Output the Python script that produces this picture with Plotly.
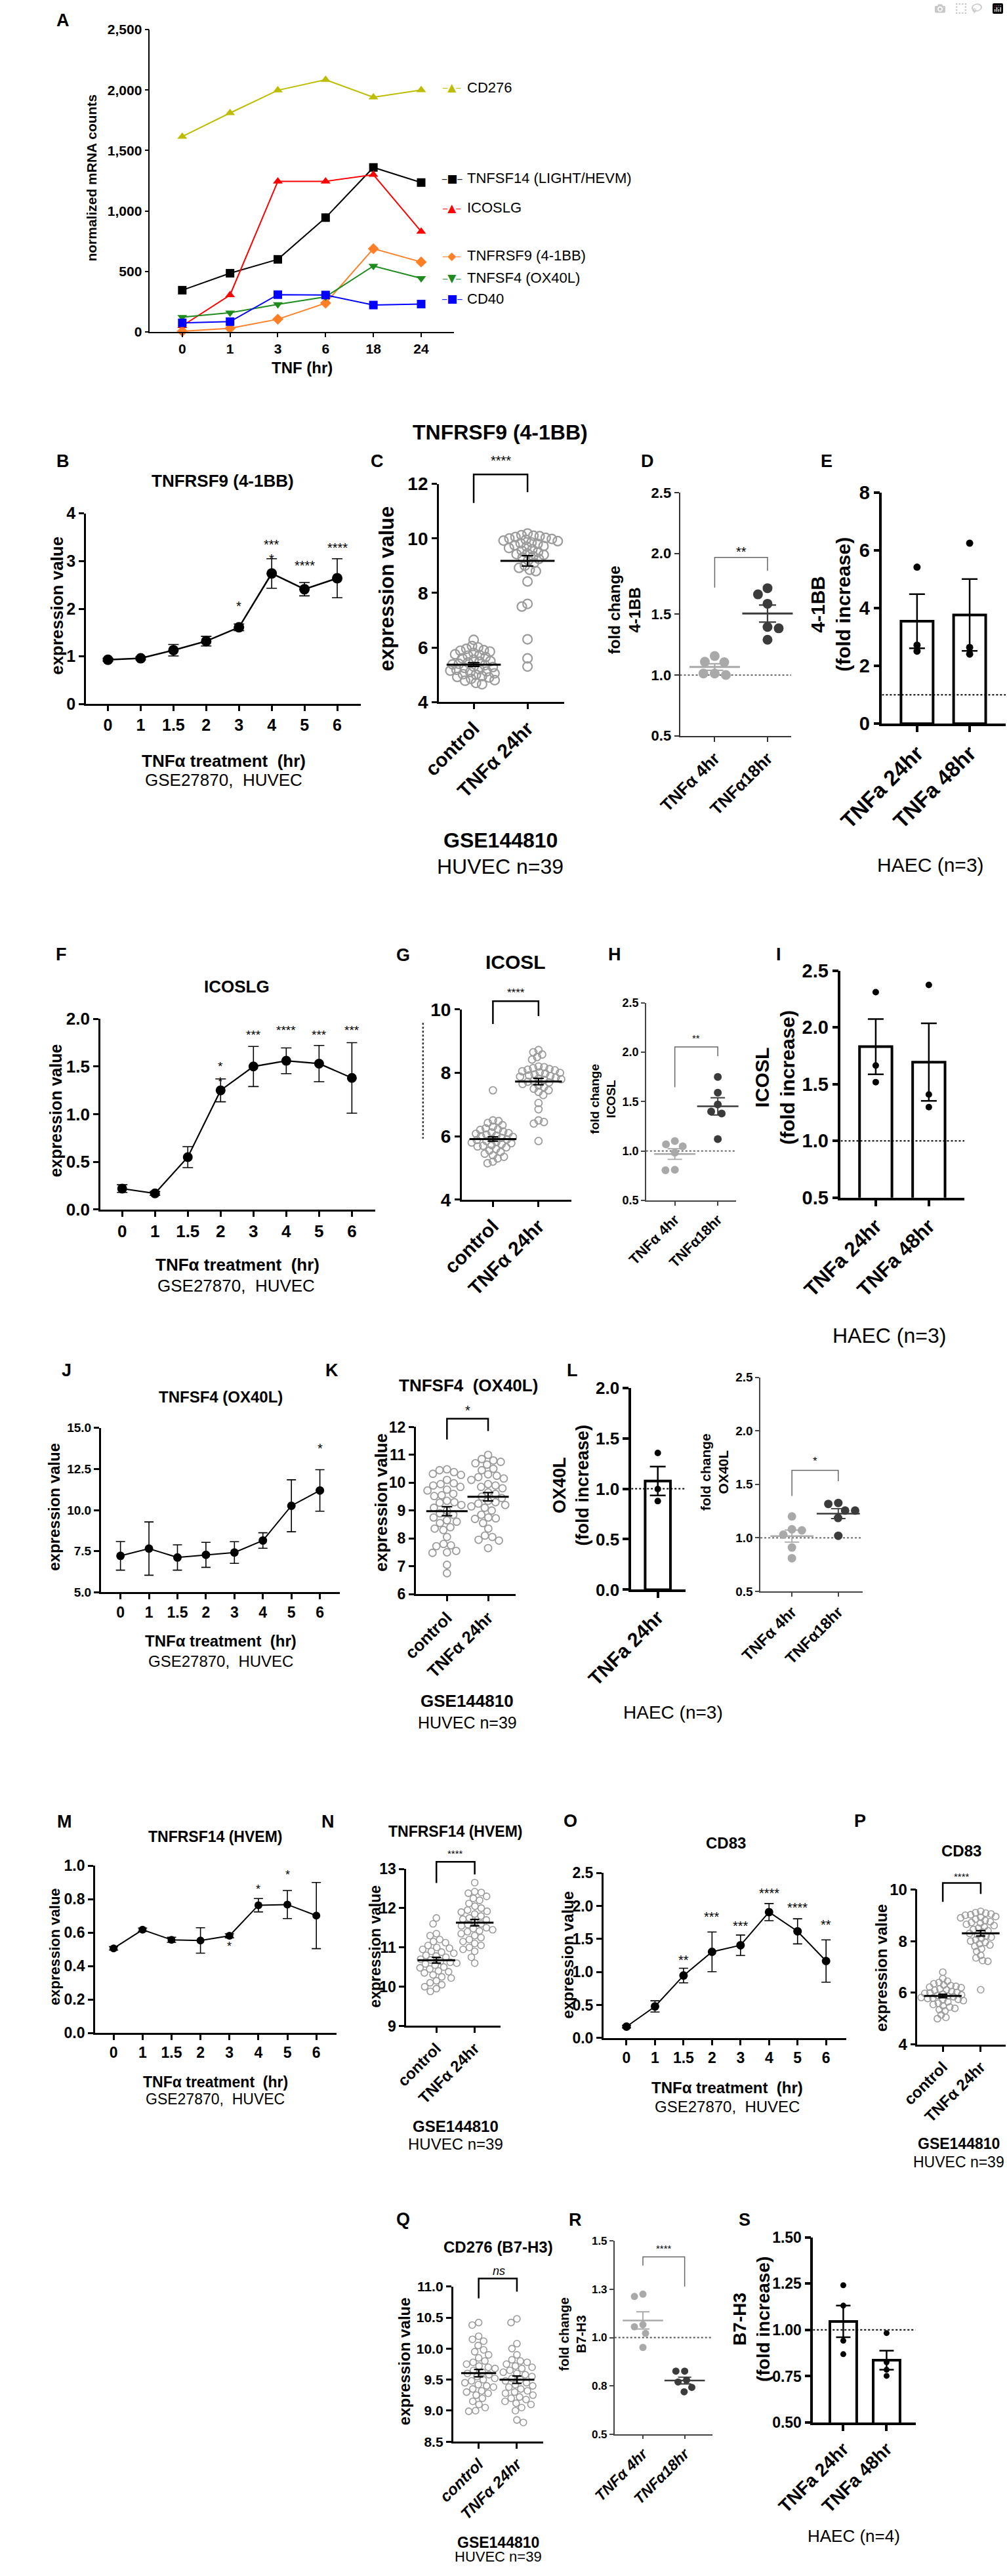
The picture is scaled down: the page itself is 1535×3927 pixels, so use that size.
import statistics as st
import plotly.graph_objects as go

W, H = 1535, 3927
FONT = "Liberation Sans, Arial, Helvetica, sans-serif"
GLYPH = "DejaVu Sans"
LIGHT, DARK, OPEN = "#a9a9a9", "#3b3b3b", "#9b9b9b"

# ---------------- A: normalized mRNA counts after TNF ----------------
a_hours = ["0", "1", "3", "6", "18", "24"]
a_cd276 = [1615, 1810, 1998, 2085, 1940, 2000]
a_tnfsf14 = [345, 485, 600, 945, 1360, 1235]
a_icoslg = [50, 305, 1245, 1245, 1300, 830]
a_tnfrsf9 = [5, 30, 105, 238, 688, 578]
a_tnfsf4 = [122, 158, 228, 290, 545, 443]
a_cd40 = [75, 85, 308, 305, 222, 230]

# ---------------- GSE27870 time courses (mean, sem) ----------------
tc_hours = ["0", "1", "1.5", "2", "3", "4", "5", "6"]
b_mean = [0.93, 0.96, 1.13, 1.32, 1.61, 2.74, 2.41, 2.64]
b_sem = [0.03, 0.03, 0.12, 0.10, 0.07, 0.31, 0.14, 0.41]
f_mean = [0.22, 0.17, 0.55, 1.25, 1.50, 1.56, 1.53, 1.38]
f_sem = [0.04, 0.02, 0.11, 0.12, 0.21, 0.135, 0.19, 0.37]
j_mean = [7.22, 7.66, 7.12, 7.28, 7.42, 8.15, 10.26, 11.19]
j_sem = [0.87, 1.62, 0.77, 0.76, 0.66, 0.47, 1.58, 1.26]
m_mean = [0.506, 0.617, 0.557, 0.553, 0.581, 0.764, 0.768, 0.702]
m_sem = [0.01, 0.01, 0.015, 0.076, 0.012, 0.04, 0.084, 0.198]
o_mean = [0.172, 0.478, 0.946, 1.305, 1.405, 1.907, 1.616, 1.166]
o_sem = [0.02, 0.085, 0.11, 0.30, 0.155, 0.13, 0.19, 0.32]

# ---------------- GSE144810 (HUVEC n=39): control vs TNFa 24hr ----------------
dot_groups = ["control", "TNFα 24hr"]
c_ctrl = [6.28, 6.05, 6.0, 5.95, 5.9, 5.88, 5.85, 5.8, 5.75, 5.72, 5.7, 5.65, 5.6,
          5.55, 5.5, 5.48, 5.45, 5.4, 5.38, 5.35, 5.3, 5.28, 5.25, 5.2, 5.18, 5.15,
          5.12, 5.1, 5.05, 5.02, 5.0, 4.95, 4.92, 4.9, 4.85, 4.8, 4.78, 4.7, 4.65]
c_tnf = [10.18, 10.12, 10.1, 10.08, 10.05, 10.02, 10.0, 9.98, 9.95, 9.92, 9.9, 9.85,
         9.82, 9.8, 9.75, 9.72, 9.7, 9.65, 9.6, 9.55, 9.5, 9.45, 9.42, 9.4, 9.35, 9.3,
         9.25, 9.2, 9.1, 9.0, 8.92, 8.85, 8.8, 8.42, 7.6, 7.5, 6.3, 5.6, 5.3]
g_ctrl = [7.45, 6.5, 6.48, 6.42, 6.35, 6.3, 6.25, 6.22, 6.2, 6.15, 6.12, 6.1, 6.08,
          6.05, 6.02, 6.0, 5.98, 5.95, 5.92, 5.9, 5.88, 5.85, 5.82, 5.8, 5.78, 5.75,
          5.72, 5.7, 5.68, 5.65, 5.6, 5.55, 5.5, 5.45, 5.4, 5.35, 5.3, 5.2, 5.15]
g_tnf = [8.72, 8.65, 8.58, 8.5, 8.42, 8.2, 8.18, 8.15, 8.12, 8.1, 8.08, 8.05, 8.02,
         8.0, 7.98, 7.95, 7.92, 7.9, 7.88, 7.85, 7.82, 7.8, 7.78, 7.75, 7.72, 7.7,
         7.65, 7.6, 7.55, 7.5, 7.45, 7.4, 7.3, 7.05, 6.85, 6.5, 6.45, 6.4, 5.85]
k_ctrl = [10.48, 10.45, 10.38, 10.32, 10.28, 10.1, 9.98, 9.95, 9.9, 9.85, 9.72, 9.6,
          9.55, 9.52, 9.35, 9.3, 9.28, 9.2, 9.1, 9.0, 8.9, 8.85, 8.75, 8.65, 8.6, 8.55,
          8.4, 8.35, 8.3, 8.05, 7.8, 7.75, 7.72, 7.55, 7.5, 7.48, 7.05, 6.75, 9.75]
k_tnf = [11.0, 10.85, 10.8, 10.75, 10.7, 10.65, 10.5, 10.45, 10.3, 10.25, 10.2, 10.15,
         10.1, 9.95, 9.9, 9.85, 9.8, 9.65, 9.6, 9.5, 9.45, 9.35, 9.3, 9.2, 9.15, 9.1,
         9.0, 8.85, 8.75, 8.72, 8.7, 8.55, 8.35, 8.1, 8.05, 7.95, 7.92, 7.65, 9.25]
n_ctrl = [11.75, 11.6, 11.35, 11.3, 11.2, 11.15, 11.12, 11.05, 11.0, 10.98, 10.95,
          10.9, 10.88, 10.85, 10.8, 10.78, 10.75, 10.7, 10.68, 10.65, 10.62, 10.6,
          10.58, 10.55, 10.5, 10.48, 10.45, 10.4, 10.38, 10.35, 10.3, 10.25, 10.22,
          10.15, 10.1, 10.05, 10.0, 9.95, 9.88]
n_tnf = [12.65, 12.42, 12.4, 12.38, 12.3, 12.25, 12.2, 12.12, 12.05, 12.0, 11.95,
         11.92, 11.9, 11.85, 11.8, 11.75, 11.72, 11.7, 11.65, 11.6, 11.58, 11.55, 11.5,
         11.48, 11.45, 11.42, 11.4, 11.35, 11.3, 11.25, 11.2, 11.15, 11.1, 11.05, 11.0,
         10.95, 10.9, 10.75, 10.6]
p_ctrl = [6.8, 6.55, 6.45, 6.4, 6.35, 6.3, 6.28, 6.25, 6.22, 6.2, 6.15, 6.12, 6.1,
          6.05, 6.02, 6.0, 5.98, 5.95, 5.92, 5.9, 5.88, 5.85, 5.82, 5.8, 5.78, 5.75,
          5.72, 5.7, 5.65, 5.6, 5.55, 5.5, 5.45, 5.4, 5.35, 5.3, 5.15, 5.05, 5.0]
p_tnf = [9.15, 9.1, 9.08, 9.05, 9.02, 9.0, 8.95, 8.92, 8.9, 8.85, 8.8, 8.75, 8.72, 8.7,
         8.65, 8.6, 8.55, 8.5, 8.45, 8.4, 8.35, 8.3, 8.25, 8.2, 8.15, 8.1, 8.05, 8.0,
         7.95, 7.9, 7.85, 7.8, 7.7, 7.6, 7.45, 7.35, 7.25, 7.22, 6.12]
q_ctrl = [10.42, 10.38, 10.2, 10.15, 10.12, 10.05, 9.98, 9.95, 9.9, 9.85, 9.8, 9.78,
          9.75, 9.72, 9.7, 9.68, 9.65, 9.62, 9.6, 9.58, 9.55, 9.52, 9.5, 9.48, 9.45,
          9.42, 9.4, 9.38, 9.35, 9.32, 9.3, 9.28, 9.25, 9.2, 9.15, 9.1, 9.05, 9.0, 8.99]
q_tnf = [10.48, 10.42, 10.08, 10.0, 9.9, 9.82, 9.8, 9.78, 9.75, 9.72, 9.7, 9.68, 9.65,
         9.62, 9.6, 9.58, 9.55, 9.52, 9.5, 9.48, 9.45, 9.42, 9.4, 9.38, 9.35, 9.32, 9.3,
         9.28, 9.25, 9.22, 9.2, 9.18, 9.15, 9.12, 9.1, 9.05, 9.0, 8.85, 8.81]

# ---------------- fold change, TNFa 4hr vs 18hr ----------------
fc_groups = ["TNFα 4hr", "TNFα18hr"]
d_4hr = [1.156, 1.105, 1.109, 1.0, 1.012, 1.012]
d_18hr = [1.663, 1.714, 1.586, 1.395, 1.384, 1.29]
h_4hr = [1.10, 1.047, 1.067, 0.983, 0.805, 0.81]
h_18hr = [1.75, 1.59, 1.47, 1.40, 1.38, 1.12]
l2_4hr = [1.20, 1.08, 1.07, 1.03, 0.91, 0.81]
l2_18hr = [1.255, 1.317, 1.326, 1.186, 1.255, 1.02]
r_4hr = [1.225, 1.213, 1.067, 1.056, 1.022, 0.949]
r_18hr = [0.826, 0.826, 0.78, 0.77, 0.742, 0.719]

# ---------------- HAEC fold increase ----------------
haec_groups = ["TNFa 24hr", "TNFa 48hr"]
e_24 = [5.42, 2.72, 2.51]
e_48 = [6.25, 2.64, 2.41]
i_24 = [2.31, 1.664, 1.518]
i_48 = [2.374, 1.409, 1.298]
l_24 = [1.355, 0.997, 0.878]
s_24 = [1.241, 1.131, 0.942, 0.869]
s_48 = [0.983, 0.826, 0.785, 0.752]

fig = go.Figure()
panels = {}


def add_panel(name, box, xr, yr, yvals, ytext, xvals, xtext, lw=3, col="black",
              yfs=24, xfs=24, xangle=0, xstyle="normal", ticklen=8):
    i = len(panels) + 1
    sfx = "" if i == 1 else str(i)
    x0, x1, yt, yb = box
    base = dict(showline=True, linecolor=col, linewidth=lw, ticks="outside",
                ticklen=ticklen, tickwidth=lw, tickcolor=col, showgrid=False,
                zeroline=False, tickmode="array", fixedrange=True)
    fig.update_layout(**{
        "xaxis" + sfx: dict(base, domain=[x0 / W, x1 / W], range=xr, anchor="y" + sfx,
                            tickvals=xvals, ticktext=xtext, tickangle=xangle,
                            tickfont=dict(family=FONT, size=xfs, color="black",
                                          weight="bold", style=xstyle)),
        "yaxis" + sfx: dict(base, domain=[1 - yb / H, 1 - yt / H], range=yr,
                            anchor="x" + sfx, tickvals=yvals, ticktext=ytext,
                            tickangle=0,
                            tickfont=dict(family=FONT, size=yfs, color="black",
                                          weight="bold")),
    })
    panels[name] = dict(ref=("x" + sfx, "y" + sfx), box=box, xr=xr, yr=yr)


def to_px(name, x, y):
    p = panels[name]
    x0, x1, yt, yb = p["box"]
    (xa, xb), (ya, yc) = p["xr"], p["yr"]
    return x0 + (x - xa) / (xb - xa) * (x1 - x0), yb - (y - ya) / (yc - ya) * (yb - yt)


def label(x, y, text, size, bold=True, angle=0, xanchor="center", italic=False,
          color="black", family=FONT, yshift=0):
    if bold:
        text = "<b>" + text + "</b>"
    if italic:
        text = "<i>" + text + "</i>"
    fig.add_annotation(x=x / W, y=1 - y / H, xref="paper", yref="paper", text=text,
                       showarrow=False, textangle=angle, xanchor=xanchor,
                       yanchor="middle", yshift=yshift,
                       font=dict(family=family, size=size, color=color))


def stars(name, marks, size):
    for xi, txt, yv in marks:
        px, py = to_px(name, xi, yv)
        label(px, py, txt, size, bold=False, yshift=-0.28 * size)


def bracket(name, yl, ytop, yr, color="black", width=2.5, txt=None, ytxt=None, size=18):
    xa, ya = to_px(name, 0, yl)
    xb, yb = to_px(name, 1, yr)
    _, yt = to_px(name, 0, ytop)
    path = "M {:.5f},{:.5f} L {:.5f},{:.5f} L {:.5f},{:.5f} L {:.5f},{:.5f}".format(
        xa / W, 1 - ya / H, xa / W, 1 - yt / H, xb / W, 1 - yt / H, xb / W, 1 - yb / H)
    fig.add_shape(type="path", path=path, xref="paper", yref="paper",
                  line=dict(color=color, width=width))
    if txt:
        stars(name, [(0.5, txt, ytxt)], size)


def swarm(name, vals, sep):
    # classic beeswarm in pixel space, returns x offsets in axis units
    p = panels[name]
    x0, x1, yt, yb = p["box"]
    kx = (x1 - x0) / (p["xr"][1] - p["xr"][0])
    ky = (yb - yt) / (p["yr"][1] - p["yr"][0])
    placed, offs = [], [0.0] * len(vals)
    for k in sorted(range(len(vals)), key=lambda n: -vals[n]):
        y = vals[k] * ky
        cands = [0.0]
        for a, b in placed:
            dy = abs(y - b)
            if dy < sep:
                dx = (sep * sep - dy * dy) ** 0.5
                cands += [a + dx, a - dx]
        sgn = 1 if len(placed) % 2 else -1
        cands.sort(key=lambda c: (round(abs(c), 6), sgn * c))
        pick = cands[-1]
        for c in cands:
            if all((c - a) ** 2 + (y - b) ** 2 >= sep * sep * 0.999 for a, b in placed):
                pick = c
                break
        placed.append((pick, y))
        offs[k] = pick / kx
    return offs


def sem(vals):
    return st.stdev(vals) / len(vals) ** 0.5


def mean_sem(name, i, vals, color, length, cap, width):
    xa, ya = panels[name]["ref"]
    fig.add_trace(go.Scatter(
        x=[i], y=[st.mean(vals)], xaxis=xa, yaxis=ya, mode="markers", cliponaxis=False,
        marker=dict(symbol="line-ew", size=length, color=color, line=dict(width=width, color=color)),
        error_y=dict(type="data", array=[sem(vals)], color=color, thickness=width * 0.75, width=cap)))


def time_course(name, means, sems, msize, lw, cap):
    xa, ya = panels[name]["ref"]
    fig.add_trace(go.Scatter(
        x=list(range(len(means))), y=means, xaxis=xa, yaxis=ya, mode="lines+markers",
        cliponaxis=False, line=dict(color="black", width=lw),
        marker=dict(size=msize, color="black"),
        error_y=dict(type="data", array=sems, color="black", thickness=1.6, width=cap)))


def swarm_panel(name, groups, size, lw, sep, length, cap):
    xa, ya = panels[name]["ref"]
    for i, vals in enumerate(groups):
        offs = swarm(name, vals, sep)
        fig.add_trace(go.Scatter(
            x=[i + o for o in offs], y=vals, xaxis=xa, yaxis=ya, mode="markers",
            cliponaxis=False,
            marker=dict(symbol="circle-open", size=size, color=OPEN,
                        line=dict(width=lw, color=OPEN))))
        mean_sem(name, i, vals, "black", length, cap, 3)


def pair_panel(name, groups, size, length, cap, lw):
    xa, ya = panels[name]["ref"]
    for i, (vals, col) in enumerate(zip(groups, [LIGHT, DARK])):
        offs = swarm(name, vals, size + 3)
        fig.add_trace(go.Scatter(
            x=[i + o for o in offs], y=vals, xaxis=xa, yaxis=ya, mode="markers",
            cliponaxis=False, marker=dict(size=size, color=col)))
        mean_sem(name, i, vals, col, length, cap, lw)


def bar_panel(name, groups, width, lw, dot, cap):
    xa, ya = panels[name]["ref"]
    fig.add_trace(go.Bar(
        x=list(range(len(groups))), y=[st.mean(g) for g in groups], width=width,
        xaxis=xa, yaxis=ya,
        marker=dict(color="white", line=dict(color="black", width=lw)),
        error_y=dict(type="data", array=[sem(g) for g in groups], color="black",
                     thickness=2.5, width=cap)))
    for i, g in enumerate(groups):
        fig.add_trace(go.Scatter(x=[i] * len(g), y=g, xaxis=xa, yaxis=ya, mode="markers",
                                 cliponaxis=False, marker=dict(size=dot, color="black")))


def ref_line(name, y=1.0, color="black", width=2):
    xa, ya = panels[name]["ref"]
    xr = panels[name]["xr"]
    fig.add_trace(go.Scatter(x=[xr[0], xr[1]], y=[y, y], xaxis=xa, yaxis=ya, mode="lines",
                             line=dict(color=color, width=width, dash="dot")))


tc_idx = list(range(len(tc_hours)))
fold05 = [0.5, 1.0, 1.5, 2.0, 2.5]
fold05_t = ["0.5", "1.0", "1.5", "2.0", "2.5"]

# ---------------- axes ----------------
add_panel("A", (164, 650, 29.3, 494), [-0.68, 5.68], [0, 2500],
          [0, 500, 1000, 1500, 2000, 2500], ["0", "500", "1,000", "1,500", "2,000", "2,500"],
          list(range(6)), a_hours, lw=1.5, yfs=21, xfs=21, ticklen=6)
add_panel("B", (62, 501.5, 773, 1066), [-0.67, 7.72], [0, 4],
          [0, 1, 2, 3, 4], ["0", "1", "2", "3", "4"], tc_idx, tc_hours, yfs=25, xfs=25)
add_panel("C", (626.5, 826.7, 727.6, 1062.8), [-0.645, 1.68], [4, 12],
          [4, 6, 8, 10, 12], ["4", "6", "8", "10", "12"], [0, 1], dot_groups,
          yfs=28, xfs=30, xangle=-45)
add_panel("D", (1012, 1190, 741, 1114.8), [-0.657, 1.45], [0.5, 2.5], fold05, fold05_t,
          [0, 1], fc_groups, lw=2, col="#333333", yfs=22, xfs=26, xangle=-45, ticklen=7)
add_panel("E", (1335, 1533, 741, 1096.2), [-0.667, 1.686], [0, 8],
          [0, 2, 4, 6, 8], ["0", "2", "4", "6", "8"], [0, 1], haec_groups,
          lw=3.5, yfs=29, xfs=33, xangle=-45, ticklen=9)
add_panel("F", (85.2, 524.5, 1549.7, 1843), [-0.66, 7.71], [0, 2],
          [0, 0.5, 1, 1.5, 2], ["0.0", "0.5", "1.0", "1.5", "2.0"], tc_idx, tc_hours,
          yfs=26, xfs=26)
add_panel("G", (663, 838, 1535.4, 1827.7), [-0.683, 1.717], [4, 10],
          [4, 6, 8, 10], ["4", "6", "8", "10"], [0, 1], dot_groups,
          yfs=28, xfs=30, xangle=-45)
add_panel("H", (957.7, 1102, 1525.2, 1828.8), [-0.67, 1.43], [0.5, 2.5], fold05, fold05_t,
          [0, 1], fc_groups, lw=1.5, col="#444444", yfs=18, xfs=22, xangle=-45, ticklen=6)
add_panel("I", (1269, 1466.9, 1475.7, 1824.7), [-0.66, 1.67], [0.5, 2.5], fold05, fold05_t,
          [0, 1], haec_groups, lw=3.5, yfs=29, xfs=31, xangle=-45, ticklen=9)
add_panel("J", (85.7, 468.4, 2178.3, 2431.3), [-0.69, 7.71], [5, 15],
          [5, 7.5, 10, 12.5, 15], ["5.0", "7.5", "10.0", "12.5", "15.0"], tc_idx, tc_hours,
          lw=2.5, yfs=19, xfs=23)
add_panel("K", (589.3, 749, 2177.2, 2433.9), [-0.76, 1.667], [6, 12],
          [6, 7, 8, 9, 10, 11, 12], ["6", "7", "8", "9", "10", "11", "12"], [0, 1], dot_groups,
          lw=2.5, yfs=23, xfs=26, xangle=-45)
add_panel("L", (934, 1020.5, 2117, 2427.2), [-0.5, 0.518], [0, 2],
          [0, 0.5, 1, 1.5, 2], ["0.0", "0.5", "1.0", "1.5", "2.0"], [0], haec_groups[:1],
          lw=3.5, yfs=26, xfs=30, xangle=-45, ticklen=9)
add_panel("L2", (1140.6, 1303.7, 2100.7, 2429.8), [-0.68, 1.52], [0.5, 2.5], fold05, fold05_t,
          [0, 1], fc_groups, lw=1.5, col="#444444", yfs=19, xfs=24, xangle=-45, ticklen=6)
add_panel("M", (76.5, 462.8, 2851.5, 3108.4), [-0.64, 7.70], [0, 1],
          [0, 0.2, 0.4, 0.6, 0.8, 1.0], ["0.0", "0.2", "0.4", "0.6", "0.8", "1.0"],
          tc_idx, tc_hours, lw=2.5, yfs=23, xfs=23)
add_panel("N", (574, 724.5, 2856.3, 3097.7), [-0.79, 1.666], [9, 13],
          [9, 10, 11, 12, 13], ["9", "10", "11", "12", "13"], [0, 1], dot_groups,
          lw=2.5, yfs=23, xfs=24, xangle=-45)
add_panel("O", (889.5, 1278, 2862.6, 3116.2), [-0.81, 7.71], [0, 2.5],
          [0, 0.5, 1, 1.5, 2, 2.5], ["0.0", "0.5", "1.0", "1.5", "2.0", "2.5"],
          tc_idx, tc_hours, lw=2.5, yfs=23, xfs=23)
add_panel("P", (1391.7, 1533, 2887.8, 3126.3), [-0.67, 1.66], [4, 10],
          [4, 6, 8, 10], ["4", "6", "8", "10"], [0, 1], dot_groups,
          lw=2.5, yfs=24, xfs=24, xangle=-45)
add_panel("Q", (649, 793.4, 3498.3, 3736.7), [-0.67, 1.69], [8.5, 11],
          [8.5, 9, 9.5, 10, 10.5, 11], ["8.5", "9.0", "9.5", "10.0", "10.5", "11.0"],
          [0, 1], dot_groups, lw=2.5, yfs=21, xfs=24, xangle=-45, xstyle="italic")
add_panel("R", (907.3, 1064, 3428.3, 3725), [-0.68, 1.667], [0.5, 1.5],
          [0.5, 0.75, 1.0, 1.25, 1.5], ["0.5", "0.8", "1.0", "1.3", "1.5"], [0, 1], fc_groups,
          lw=1.5, col="#444444", yfs=17, xfs=23, xangle=-45, xstyle="italic", ticklen=6)
add_panel("S", (1224.7, 1388.8, 3422.5, 3707.3), [-0.70, 1.67], [0.5, 1.5],
          [0.5, 0.75, 1.0, 1.25, 1.5], ["0.50", "0.75", "1.00", "1.25", "1.50"], [0, 1],
          haec_groups, lw=3.5, yfs=23, xfs=28, xangle=-45, ticklen=9)

# ---------------- A ----------------
a_series = [("CD276", a_cd276, "#bdbd00", "triangle-up", "▲"),
            ("TNFSF14 (LIGHT/HEVM)", a_tnfsf14, "black", "square", "■"),
            ("ICOSLG", a_icoslg, "#ff0000", "triangle-up", "▲"),
            ("TNFRSF9 (4-1BB)", a_tnfrsf9, "#ff7f27", "diamond", "◆"),
            ("TNFSF4 (OX40L)", a_tnfsf4, "#1e8b1e", "triangle-down", "▼"),
            ("CD40", a_cd40, "#0000ff", "square", "■")]
legend_y = [118, 258, 303, 377, 411, 443]
xa, ya = panels["A"]["ref"]
for (nm, vals, col, sym, gl), ly in zip(a_series, legend_y):
    fig.add_trace(go.Scatter(x=list(range(len(vals))), y=vals, xaxis=xa, yaxis=ya,
                             mode="lines+markers", cliponaxis=False,
                             line=dict(color=col, width=2),
                             marker=dict(symbol=sym, size=13, color=col)))
    label(647, ly, "<span style='font-size:12px'>─</span>" + gl +
          "<span style='font-size:12px'>─</span>", 17, bold=False, color=col, family=GLYPH)
    label(669, ly, nm, 22, bold=False, xanchor="left")
label(25, 15, "A", 27)
label(71, 257, "normalized mRNA counts", 21, angle=-90)
label(408, 549, "TNF (hr)", 24)

# ---------------- time courses ----------------
time_course("B", b_mean, b_sem, 16, 2.5, 8)
time_course("F", f_mean, f_sem, 15, 2.2, 8)
time_course("J", j_mean, j_sem, 13, 2, 7)
time_course("M", m_mean, m_sem, 12, 2, 7)
time_course("O", o_mean, o_sem, 13, 2, 7)
stars("B", [(4, "*", 2.13), (5, "*", 3.12), (5, "***", 3.43), (6, "****", 2.99),
            (7, "****", 3.36)], 20)
stars("F", [(3, "*", 1.38), (3, "*", 1.54), (4, "***", 1.87), (5, "****", 1.92),
            (6, "***", 1.87), (7, "***", 1.92)], 19)
stars("J", [(7, "*", 13.97)], 20)
stars("M", [(4, "*", 0.538), (5, "*", 0.881), (6, "*", 0.966)], 18)
stars("O", [(2, "**", 1.238), (3, "***", 1.893), (4, "***", 1.75), (5, "****", 2.25),
            (6, "****", 2.036), (7, "**", 1.773)], 20)

# ---------------- GSE144810 dot plots ----------------
swarm_panel("C", [c_ctrl, c_tnf], 14, 2.2, 10, 59, 9)
swarm_panel("G", [g_ctrl, g_tnf], 11, 1.8, 9, 51, 8)
swarm_panel("K", [k_ctrl, k_tnf], 11, 1.8, 12, 45, 8)
swarm_panel("N", [n_ctrl, n_tnf], 10, 1.6, 10.5, 41, 7)
swarm_panel("P", [p_ctrl, p_tnf], 10, 1.6, 8.5, 41, 7)
swarm_panel("Q", [q_ctrl, q_tnf], 10, 1.6, 11, 38, 7)
bracket("C", 11.30, 12.35, 11.70, txt="****", ytxt=13.0, size=20)
bracket("G", 9.54, 10.26, 9.79, txt="****", ytxt=10.62, size=17)
bracket("K", 11.55, 12.30, 11.86, txt="*", ytxt=12.74, size=20)
bracket("N", 12.64, 13.18, 12.86, txt="****", ytxt=13.47, size=15)
bracket("P", 9.52, 10.25, 9.82, txt="****", ytxt=10.61, size=15)
bracket("Q", 10.81, 11.13, 10.92)

# ---------------- fold change 4hr / 18hr ----------------
for nm in ["D", "H", "L2", "R"]:
    ref_line(nm, color="#555555", width=1.8)
pair_panel("D", [d_4hr, d_18hr], 15, 55, 13, 3)
pair_panel("H", [h_4hr, h_18hr], 12, 45, 11, 2.5)
pair_panel("L2", [l2_4hr, l2_18hr], 13, 47, 11, 2.5)
pair_panel("R", [r_4hr, r_18hr], 11, 44, 10, 2.5)
bracket("D", 1.719, 1.967, 1.858, color="#666666", width=1.5, txt="**", ytxt=2.045, size=20)
bracket("H", 1.645, 2.053, 1.961, color="#666666", width=1.5, txt="**", ytxt=2.173, size=15)
bracket("L2", 1.392, 1.631, 1.529, color="#666666", width=1.5, txt="*", ytxt=1.746, size=17)
bracket("R", 1.373, 1.418, 1.264, color="#666666", width=1.5, txt="****", ytxt=1.475, size=15)

# ---------------- HAEC bars ----------------
bar_panel("E", [e_24, e_48], 0.61, 4, 11, 12)
bar_panel("I", [i_24, i_48], 0.61, 4, 10, 12)
bar_panel("L", [l_24], 0.476, 4, 10, 12)
bar_panel("S", [s_24, s_48], 0.62, 4, 9, 11)
for nm in ["E", "I", "L", "S"]:
    ref_line(nm, color="black", width=2)

# ---------------- texts ----------------
letters = [("B", 25.5, 693), ("C", 528, 693), ("D", 960, 693), ("E", 1246, 693),
           ("F", 23, 1451), ("G", 569, 1452), ("H", 908, 1451), ("I", 1170, 1451),
           ("J", 30.6, 2090.5), ("K", 455.6, 2090.5), ("L", 840, 2090.5),
           ("M", 28, 2783.6), ("N", 449, 2783.6), ("O", 836.6, 2782.7),
           ("P", 1300.3, 2782.7), ("Q", 568.9, 3394.4), ("R", 845, 3395.4),
           ("S", 1115, 3395.4)]
for t, x, y in letters:
    label(x, y, t, 27)

TT = "TNFα treatment\u00a0\u00a0(hr)"
GS = "GSE27870,\u00a0\u00a0HUVEC"
label(725, 648, "TNFRSF9 (4-1BB)", 32)
label(281, 723, "TNFRSF9 (4-1BB)", 26)
label(15, 915, "expression value", 26, angle=-90)
label(282, 1153, TT, 26)
label(282, 1183, GS, 26, bold=False)
label(543, 889, "expression value", 31, angle=-90)
label(725, 1275, "GSE144810", 32)
label(725, 1316, "HUVEC n=39", 32, bold=False)
label(924, 921, "fold change<br>4-1BB", 24, angle=-90)
label(1252, 913, "4-1BB<br>(fold increase)", 30, angle=-90)
label(1413, 1313, "HAEC (n=3)", 30, bold=False)

label(303.6, 1500.7, "ICOSLG", 26)
label(14, 1691, "expression value", 25, angle=-90)
label(304, 1928, TT, 26)
label(302, 1960, GS, 26, bold=False)
label(749, 1462, "ICOSL", 30)
fig.add_shape(type="line", xref="paper", yref="paper", x0=601 / W, x1=601 / W,
              y0=1 - 1556 / H, y1=1 - 1734 / H, line=dict(color="#333333", width=2.5, dash="dot"))
label(889, 1673, "fold change<br>ICOSL", 19, angle=-90)
label(1163, 1640, "ICOSL<br>(fold increase)", 30, angle=-90)
label(1347, 2037, "HAEC (n=3)", 32, bold=False)

label(277.5, 2131.3, "TNFSF4 (OX40L)", 24)
label(11, 2300, "expression value", 24, angle=-90)
label(278, 2506, TT, 24)
label(278, 2537, GS, 24, bold=False)
label(673.5, 2113.5, "TNFSF4\u00a0\u00a0(OX40L)", 26)
label(534.7, 2293, "expression value", 26, angle=-90)
label(672, 2598, "GSE144810", 26)
label(672, 2631, "HUVEC n=39", 25, bold=False)
label(837.7, 2266.5, "OX40L<br>(fold increase)", 27, angle=-90)
label(1001, 2616, "HAEC (n=3)", 28, bold=False)
label(1066.4, 2246, "fold change<br>OX40L", 21, angle=-90)

label(268.6, 2806.4, "TNFRSF14 (HVEM)", 23)
label(12.8, 2976, "expression value", 22, angle=-90)
label(269, 3183.5, TT, 23)
label(269, 3210, GS, 23, bold=False)
label(653, 2799, "TNFRSF14 (HVEM)", 23)
label(524.5, 2975, "expression value", 23, angle=-90)
label(653, 3252.4, "GSE144810", 24)
label(653, 3279, "HUVEC n=39", 24, bold=False)
label(1085.7, 2816, "CD83", 24)
label(833, 2988, "expression value", 24, angle=-90)
label(1087, 3193, TT, 24)
label(1087, 3222, GS, 24, bold=False)
label(1462.5, 2828.7, "CD83", 24)
label(1334.4, 3008, "expression value", 24, angle=-90)
label(1458, 3279, "GSE144810", 23)
label(1458, 3307, "HUVEC n=39", 23, bold=False)

label(721, 3438, "CD276 (B7-H3)", 24)
label(722, 3474.4, "ns", 18, bold=False, italic=True)
label(571.4, 3613, "expression value", 24, angle=-90)
label(721.5, 3891.7, "GSE144810", 23)
label(721.5, 3913.3, "HUVEC n=39", 22, bold=False)
label(840.2, 3571.7, "fold change<br>B7-H3", 20, angle=-90)
label(1125.8, 3548, "B7-H3<br>(fold increase)", 28, angle=-90)
label(1290, 3881.7, "HAEC (n=4)", 26, bold=False)

fig.update_layout(width=W, height=H, margin=dict(l=0, r=0, t=0, b=0),
                  paper_bgcolor="white", plot_bgcolor="white", showlegend=False,
                  font=dict(family=FONT, color="black"))
fig.write_html("out.html", post_script="document.body.style.margin='0';")
